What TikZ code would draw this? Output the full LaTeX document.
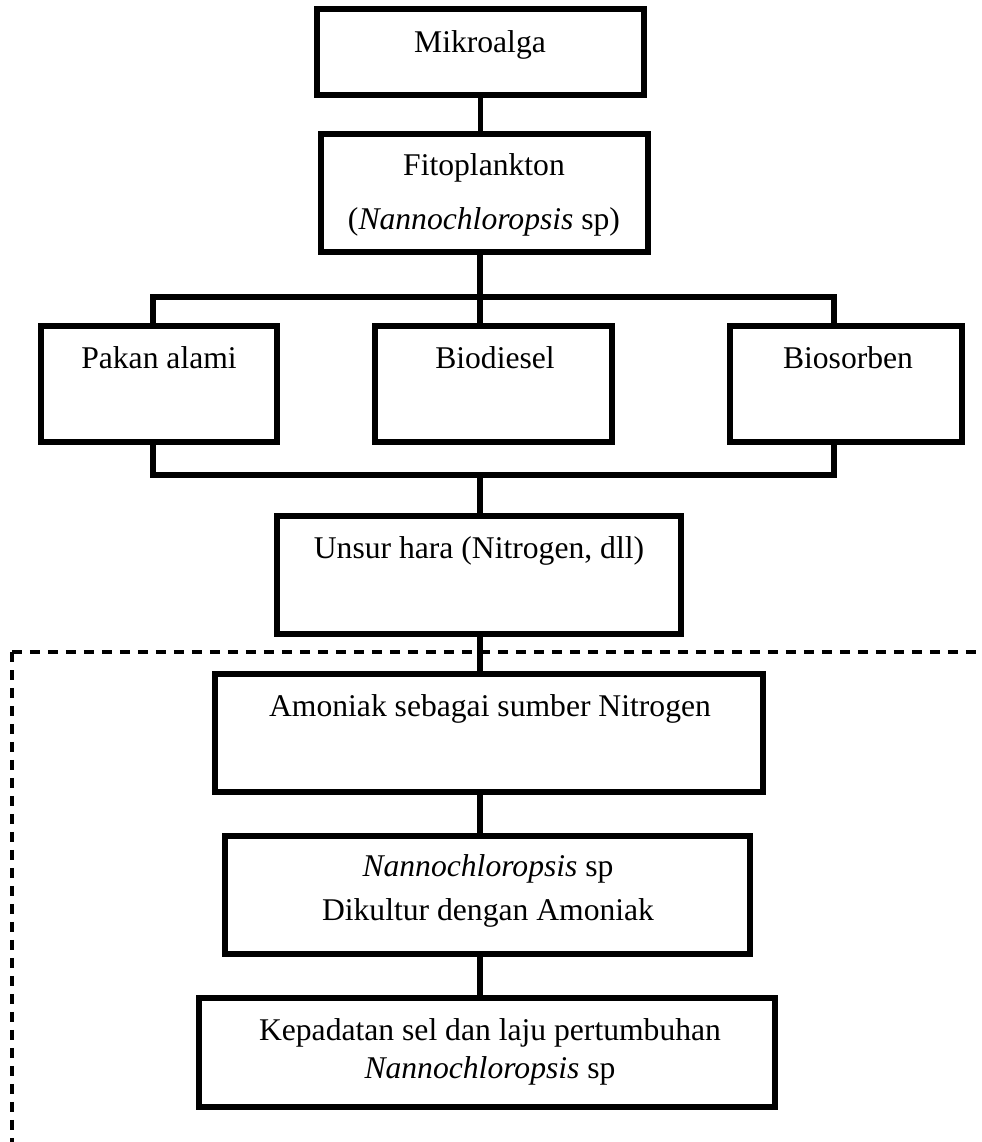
\documentclass[tikz,border=0pt]{standalone}
\usepackage{fontspec}
\setmainfont{Liberation Serif}

\begin{document}
\begin{tikzpicture}[x=0.02cm, y=-0.02cm,
    box/.style={draw, rectangle, line width=0.12cm, inner sep=0pt},
    txt/.style={inner sep=0pt, anchor=base, align=center, font=\fontsize{18}{21}\selectfont},
    link/.style={line width=0.11cm},
    scopeline/.style={line width=0.065cm, dash pattern=on 0.2cm off 0.16cm}]
    \useasboundingbox (0,0) rectangle (981,1142);

    % 1. Garis putus-putus (ruang lingkup penelitian)
    \coordinate (corner) at (12,652);
    \draw[scopeline] (corner) -- (995,652);
    \draw[scopeline] (corner) -- (12,1160);

    % 2. Kotak-kotak
    \node[box, minimum width=6.54cm, minimum height=1.72cm] (mikro) at (480.5,52) {};
    \node[box, minimum width=6.54cm, minimum height=2.36cm] (fito) at (484.5,193) {};
    \node[box, minimum width=4.72cm, minimum height=2.32cm] (pakan) at (159,384) {};
    \node[box, minimum width=4.74cm, minimum height=2.32cm] (biodiesel) at (493.5,384) {};
    \node[box, minimum width=4.64cm, minimum height=2.32cm] (biosorben) at (846,384) {};
    \node[box, minimum width=8.08cm, minimum height=2.36cm] (unsur) at (479,575) {};
    \node[box, minimum width=10.96cm, minimum height=2.36cm] (amoniak) at (489,733) {};
    \node[box, minimum width=10.5cm, minimum height=2.36cm] (kultur) at (487.5,895) {};
    \node[box, minimum width=11.52cm, minimum height=2.18cm] (kepadatan) at (487,1052.5) {};

    % 3. Teks di dalam kotak (base = baris terakhir)
    \node[txt] (mikrotxt) at (480,53) {Mikroalga};
    \node[txt, font=\fontsize{18}{31.3}\selectfont] (fitotxt) at (484,230) {Fitoplankton\\(\textit{Nannochloropsis} sp)};
    \node[txt] (pakantxt) at (159,368) {Pakan alami};
    \node[txt] (biodieseltxt) at (495,368) {Biodiesel};
    \node[txt] (biosorbentxt) at (848,368) {Biosorben};
    \node[txt] (unsurtxt) at (479,558) {Unsur hara (Nitrogen, dll)};
    \node[txt] (amoniaktxt) at (490,716) {Amoniak sebagai sumber Nitrogen};
    \node[txt, font=\fontsize{18}{24.5}\selectfont] (kulturtxt) at (488,920) {\textit{Nannochloropsis} sp\\Dikultur dengan Amoniak};
    \node[txt, font=\fontsize{18}{21.6}\selectfont] (kepadatantxt) at (490,1078) {Kepadatan sel dan laju pertumbuhan\\\textit{Nannochloropsis} sp};

    % 4. Garis penghubung
    \coordinate (topbus) at (480,297);
    \coordinate (botbus) at (480,475);
    \coordinate (tl) at (153,297);
    \coordinate (tr) at (834,297);
    \coordinate (bl) at (153,475);
    \coordinate (br) at (834,475);
    \draw[link] (mikro.south) -- (mikro.south |- fito.north);
    \draw[link] (topbus |- fito.south) -- (topbus);
    \draw[link] (tl |- pakan.north) -- (tl) -- (tr) -- (tr |- biosorben.north);
    \draw[link] (topbus) -- (topbus |- biodiesel.north);
    \draw[link] (bl |- pakan.south) -- (bl) -- (br) -- (br |- biosorben.south);
    \draw[link] (botbus) -- (botbus |- unsur.north);
    \draw[link] (botbus |- unsur.south) -- (botbus |- amoniak.north);
    \draw[link] (botbus |- amoniak.south) -- (botbus |- kultur.north);
    \draw[link] (botbus |- kultur.south) -- (botbus |- kepadatan.north);

\end{tikzpicture}
\end{document}
